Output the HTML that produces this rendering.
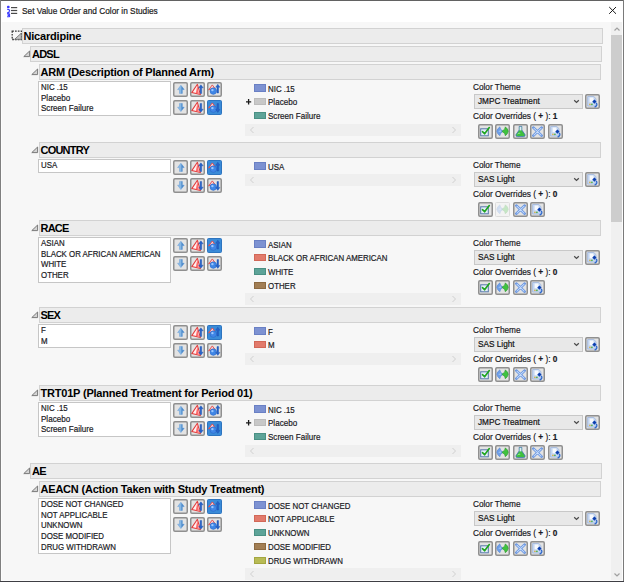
<!DOCTYPE html><html><head><meta charset="utf-8"><style>
html,body{margin:0;padding:0;}
body{width:624px;height:582px;overflow:hidden;position:relative;background:#f7f7f7;font-family:"Liberation Sans", sans-serif;}
.t{position:absolute;white-space:nowrap;color:#1e1e1e;-webkit-text-stroke:0.2px currentColor;}
</style></head><body>
<div style="position:absolute;left:0px;top:0px;width:624px;height:1px;background:#626262;"></div>
<div style="position:absolute;left:0px;top:0px;width:1px;height:582px;background:#808080;"></div>
<div style="position:absolute;left:1px;top:1px;width:622px;height:21px;background:#ffffff;"></div>
<div style="position:absolute;left:623px;top:0px;width:1px;height:582px;background:#7a7a7a;"></div>
<div style="position:absolute;left:1px;top:580px;width:622px;height:1px;background:#fbfbfb;"></div>
<div style="position:absolute;left:1px;top:22px;width:1px;height:558px;background:#fdfdfd;"></div>
<div style="position:absolute;left:0px;top:581px;width:624px;height:1px;background:#3e3e44;"></div>
<svg style="position:absolute;left:6px;top:5px" width="13" height="13" viewBox="0 0 13 13"><rect x="1" y="0.8" width="2.6" height="2.4" rx="1" fill="#3a3aff"/><path d="M1.2 4.4 Q3.8 4.2 3.6 6 Q3.4 7 1.2 8 L3.8 8" fill="none" stroke="#3a3aff" stroke-width="1.1"/><path d="M1.2 8.6 Q3.9 8.8 3.6 9.9 Q2.6 10.4 1.6 10.2 Q4.2 10.6 3.6 11.6 Q3 12 1.2 11.6" fill="none" stroke="#3a3aff" stroke-width="1.1"/><rect x="5" y="2" width="6.2" height="1.2" fill="#4a4a4a"/><rect x="5" y="4.9" width="6.2" height="1.2" fill="#4a4a4a"/><rect x="5" y="7.8" width="6.2" height="1.2" fill="#4a4a4a"/></svg>
<div class="t" style="left:22px;top:6px;font-size:9px;line-height:11px;transform:scaleX(0.921);transform-origin:0 0;color:#1a1a1a;">Set Value Order and Color in Studies</div>
<svg style="position:absolute;left:608px;top:6px" width="10" height="10" viewBox="0 0 10 10"><path d="M1.2 1 L8 7.8 M8 1 L1.2 7.8" stroke="#1a1a1a" stroke-width="1"/></svg>
<div style="position:absolute;left:611px;top:22px;width:11px;height:558px;background:#f0f0f0;"></div>
<div style="position:absolute;left:622px;top:22px;width:1px;height:558px;background:#fdfdfd;"></div>
<div style="position:absolute;left:611px;top:35px;width:11px;height:187px;background:#cdcdcd;"></div>
<svg style="position:absolute;left:613px;top:25.5px" width="8" height="6" viewBox="0 0 8 6"><path d="M1.5 4.5 L4 2 L6.5 4.5" fill="none" stroke="#a0a0a0" stroke-width="1.2"/></svg>
<svg style="position:absolute;left:613px;top:572px" width="8" height="6" viewBox="0 0 8 6"><path d="M1.5 1.5 L4 4 L6.5 1.5" fill="none" stroke="#a0a0a0" stroke-width="1.2"/></svg>
<svg style="position:absolute;left:11px;top:30px" width="12" height="11" viewBox="0 0 12 11"><rect x="1.2" y="1.2" width="9.3" height="8.3" fill="none" stroke="#3a3a3a" stroke-width="1.3" stroke-dasharray="1.7 1.1"/><path d="M3.6 9.3 L10.3 3.2 L10.3 9.3 Z" fill="#c4c4c4" stroke="#707070" stroke-width="0.9"/></svg>
<div style="position:absolute;left:21.5px;top:28px;width:581.5px;height:16px;box-sizing:border-box;border:1px solid #d2d2d2;background:#ececec;"></div>
<div class="t" style="left:23.5px;top:29px;font-weight:bold;font-size:11px;line-height:14px;color:#000;-webkit-text-stroke:0;letter-spacing:-0.2px;">Nicardipine</div>
<div style="position:absolute;left:30px;top:46px;width:572px;height:16px;box-sizing:border-box;border:1px solid #d2d2d2;background:#ececec;"></div>
<svg style="position:absolute;left:22.8px;top:50.4px" width="8" height="8" viewBox="0 0 8 8"><path d="M0.8 6.6 L6.6 1 L6.6 6.6 Z" fill="#d4d4d4" stroke="#7a7a7a" stroke-width="1" stroke-linejoin="round"/></svg>
<div class="t" style="left:32px;top:47px;font-weight:bold;font-size:11px;line-height:14px;color:#000;-webkit-text-stroke:0;letter-spacing:-0.78px;">ADSL</div>
<div style="position:absolute;left:38.5px;top:64px;width:562.5px;height:16px;box-sizing:border-box;border:1px solid #d2d2d2;background:#ececec;"></div>
<svg style="position:absolute;left:31.3px;top:68.4px" width="8" height="8" viewBox="0 0 8 8"><path d="M0.8 6.6 L6.6 1 L6.6 6.6 Z" fill="#d4d4d4" stroke="#7a7a7a" stroke-width="1" stroke-linejoin="round"/></svg>
<div class="t" style="left:40.5px;top:65px;font-weight:bold;font-size:11px;line-height:14px;color:#000;-webkit-text-stroke:0;letter-spacing:-0.2px;">ARM (Description of Planned Arm)</div>
<div style="position:absolute;left:38px;top:81px;width:133px;height:34.89999999999999px;box-sizing:border-box;border:1px solid #c6c6c6;background:#fff;"></div>
<div class="t" style="left:41px;top:82.0px;font-size:9px;line-height:10.7px;transform:scaleX(0.875);transform-origin:0 0;color:#1a1a24;">NIC .15</div>
<div class="t" style="left:41px;top:92.7px;font-size:9px;line-height:10.7px;transform:scaleX(0.895);transform-origin:0 0;color:#1a1a24;">Placebo</div>
<div class="t" style="left:41px;top:103.4px;font-size:9px;line-height:10.7px;transform:scaleX(0.895);transform-origin:0 0;color:#1a1a24;">Screen Failure</div>
<svg style="position:absolute;left:172.5px;top:82px" width="15" height="15" viewBox="0 0 15 15"><rect x="0.75" y="0.75" width="13.5" height="13.5" rx="1.2" fill="#e3e3e3" stroke="#909090" stroke-width="1.5"/><g><path d="M7.9 3.2 L11.2 7.6 L9.3 7.6 L9.3 11.4 L6.5 11.4 L6.5 7.6 L4.6 7.6 Z" fill="#86b8e6" stroke="#6a9fd6" stroke-width="0.5"/><path d="M8.4 4 L11.2 7.6 L9.3 7.6 L9.3 11.4 L8.4 11.4 Z" fill="#4d89c9"/></g></svg>
<svg style="position:absolute;left:190px;top:82px" width="15" height="15" viewBox="0 0 15 15"><rect x="0.75" y="0.75" width="13.5" height="13.5" rx="1.2" fill="#e3e3e3" stroke="#909090" stroke-width="1.5"/><g><path d="M7.4 2.3 L1.8 10.6 L10.4 12.6 Z" fill="#fff0f0" stroke="#e23c3c" stroke-width="1.05" stroke-linejoin="round"/><path d="M7.3 3.6 L5.9 10.9 L8.9 11.6 Z" fill="#ff6a6a"/><path d="M10.9 2.8 L13.2 5.8 L11.7 5.8 L11.7 11.6 L10.1 11.6 L10.1 5.8 L8.6 5.8 Z" fill="#2563c9" stroke="#1b4fae" stroke-width="0.4"/></g></svg>
<svg style="position:absolute;left:207.3px;top:82px" width="15" height="15" viewBox="0 0 15 15"><rect x="0.75" y="0.75" width="13.5" height="13.5" rx="1.2" fill="#e3e3e3" stroke="#909090" stroke-width="1.5"/><g><path d="M1.6 7.9 L5.3 2.9 L7.6 6 Z" fill="#ffd0d0" stroke="#e04848" stroke-width="0.9" stroke-linejoin="round"/><circle cx="6.3" cy="9.1" r="3.3" fill="#3f86e6" stroke="#2a63c0" stroke-width="0.5"/><circle cx="5.4" cy="8.1" r="1.2" fill="#9cc8ff"/><path d="M10.8 2.2 L12.9 5.2 L11.6 5.2 L11.6 11 L10 11 L10 5.2 L8.7 5.2 Z" fill="#2563c9" stroke="#1b4fae" stroke-width="0.4"/></g></svg>
<svg style="position:absolute;left:172.5px;top:99.5px" width="15" height="15" viewBox="0 0 15 15"><rect x="0.75" y="0.75" width="13.5" height="13.5" rx="1.2" fill="#e3e3e3" stroke="#909090" stroke-width="1.5"/><g><path d="M7.9 11.6 L11.2 7.2 L9.3 7.2 L9.3 3.4 L6.5 3.4 L6.5 7.2 L4.6 7.2 Z" fill="#86b8e6" stroke="#6a9fd6" stroke-width="0.5"/><path d="M8.4 10.8 L11.2 7.2 L9.3 7.2 L9.3 3.4 L8.4 3.4 Z" fill="#4d89c9"/></g></svg>
<svg style="position:absolute;left:190px;top:99.5px" width="15" height="15" viewBox="0 0 15 15"><rect x="0.75" y="0.75" width="13.5" height="13.5" rx="1.2" fill="#e3e3e3" stroke="#909090" stroke-width="1.5"/><g><path d="M7.4 2.3 L1.8 10.6 L10.4 12.6 Z" fill="#fff0f0" stroke="#e23c3c" stroke-width="1.05" stroke-linejoin="round"/><path d="M7.3 3.6 L5.9 10.9 L8.9 11.6 Z" fill="#ff6a6a"/><path d="M10.9 12.2 L13.2 9.2 L11.7 9.2 L11.7 3.4 L10.1 3.4 L10.1 9.2 L8.6 9.2 Z" fill="#2563c9" stroke="#1b4fae" stroke-width="0.4"/></g></svg>
<svg style="position:absolute;left:207.3px;top:99.5px" width="15" height="15" viewBox="0 0 15 15"><rect x="0.5" y="0.5" width="14" height="14" rx="1" fill="#3a8bd8" stroke="#2d74bf" stroke-width="1"/><g><path d="M1.6 7.9 L5.3 2.9 L7.6 6 Z" fill="#ffd0d0" stroke="#e04848" stroke-width="0.9" stroke-linejoin="round"/><circle cx="6.3" cy="9.1" r="3.3" fill="#3f86e6" stroke="#2a63c0" stroke-width="0.5"/><circle cx="5.4" cy="8.1" r="1.2" fill="#9cc8ff"/><path d="M10.8 12.4 L12.9 9.4 L11.6 9.4 L11.6 3.6 L10 3.6 L10 9.4 L8.7 9.4 Z" fill="#2563c9" stroke="#1b4fae" stroke-width="0.4"/></g></svg>
<div style="position:absolute;left:254px;top:84.4px;width:11.8px;height:7.2px;box-sizing:border-box;background:#7d92d2;border:0.8px solid #6a80c4;"></div>
<div class="t" style="left:267.7px;top:83.6px;font-size:9px;line-height:11px;transform:scaleX(0.875);transform-origin:0 0;color:#1a1a24;">NIC .15</div>
<div style="position:absolute;left:254px;top:98.2px;width:11.8px;height:7.2px;box-sizing:border-box;background:#c8c8c8;border:0.8px solid #bcbcbc;"></div>
<div class="t" style="left:267.7px;top:97.35px;font-size:9px;line-height:11px;transform:scaleX(0.895);transform-origin:0 0;color:#1a1a24;">Placebo</div>
<svg style="position:absolute;left:245px;top:97.7px" width="8" height="8" viewBox="0 0 8 8"><path d="M3.6 1 L3.6 6.6 M1 3.8 L6.2 3.8" stroke="#1a1a1a" stroke-width="1.3"/></svg>
<div style="position:absolute;left:254px;top:112.0px;width:11.8px;height:7.2px;box-sizing:border-box;background:#5da398;border:0.8px solid #4a9084;"></div>
<div class="t" style="left:267.7px;top:111.1px;font-size:9px;line-height:11px;transform:scaleX(0.895);transform-origin:0 0;color:#1a1a24;">Screen Failure</div>
<div style="position:absolute;left:245px;top:123.5px;width:216px;height:12px;background:#efefef;"></div>
<svg style="position:absolute;left:249px;top:125.5px" width="6" height="8" viewBox="0 0 6 8"><path d="M4.5 1 L1.5 4 L4.5 7" fill="none" stroke="#d0d0d0" stroke-width="1"/></svg>
<svg style="position:absolute;left:451px;top:125.5px" width="6" height="8" viewBox="0 0 6 8"><path d="M1.5 1 L4.5 4 L1.5 7" fill="none" stroke="#d0d0d0" stroke-width="1"/></svg>
<div class="t" style="left:472.5px;top:82.4px;font-size:9px;line-height:11px;transform:scaleX(0.916);transform-origin:0 0;color:#1a1a24;">Color Theme</div>
<div style="position:absolute;left:473.5px;top:94px;width:109px;height:14.5px;box-sizing:border-box;border:1px solid #c8c8c8;background:#e8e8e8;"></div>
<div class="t" style="left:478px;top:96px;font-size:9px;line-height:11px;transform:scaleX(0.915);transform-origin:0 0;color:#111;">JMPC Treatment</div>
<svg style="position:absolute;left:573px;top:98.6px" width="7" height="5" viewBox="0 0 7 5"><path d="M1.2 1.2 L3.5 3.4 L5.8 1.2" fill="none" stroke="#4a4a4a" stroke-width="1.25"/></svg>
<svg style="position:absolute;left:585.4px;top:93.5px" width="15" height="15" viewBox="0 0 15 15"><rect x="0.75" y="0.75" width="13.5" height="13.5" rx="1.2" fill="#e3e3e3" stroke="#909090" stroke-width="1.5"/><g><path d="M2.6 2.5 L8.8 2.5 L11 4.7 L11 12.1 L2.6 12.1 Z" fill="#c6d8f2" stroke="#8eaad6" stroke-width="0.6"/><path d="M4.6 3.4 L8.2 3.4 L8.8 6.8 L6.6 8.6 L4.6 8 Z" fill="#ffffff" opacity="0.85"/><path d="M9.4 5.5 L11.5 7.6 L9.4 9.7 L7.3 7.6 Z" fill="#0b3fb0"/><path d="M11.3 8.9 Q13.1 11.6 9.6 13.1" fill="none" stroke="#2d68cc" stroke-width="1.3"/><circle cx="4.9" cy="10.3" r="0.9" fill="#d8b050"/><circle cx="6.9" cy="10.3" r="0.9" fill="#50b050"/></g></svg>
<div class="t" style="left:472.5px;top:110.8px;font-size:9px;line-height:11px;transform:scaleX(0.92);transform-origin:0 0;color:#1a1a24;">Color Overrides ( <b>+</b> ): <b>1</b></div>
<svg style="position:absolute;left:478.0px;top:124px" width="15" height="15" viewBox="0 0 15 15"><rect x="0.75" y="0.75" width="13.5" height="13.5" rx="1.2" fill="#e3e3e3" stroke="#909090" stroke-width="1.5"/><g><rect x="2.7" y="4.8" width="7.6" height="7" fill="#e4eefa" stroke="#5678a8" stroke-width="1"/><path d="M4.5 7.6 L6.6 9.8 L11.3 3.6" fill="none" stroke="#1ea51e" stroke-width="1.6" stroke-linecap="round" stroke-linejoin="round"/></g></svg>
<svg style="position:absolute;left:495.4px;top:124px" width="15" height="15" viewBox="0 0 15 15"><rect x="0.75" y="0.75" width="13.5" height="13.5" rx="1.2" fill="#e3e3e3" stroke="#909090" stroke-width="1.5"/><g><path d="M1.7 7.3 Q2.2 4.6 4.9 2.8 L5.6 5.2 L8.1 7.3 L5.6 9.4 L4.9 11.8 Q2.2 10 1.7 7.3 Z" fill="#6d9fe8" stroke="#4c7fd2" stroke-width="0.5"/><path d="M3.2 7.3 L5.6 6.4 L6 7.6 Z" fill="#e6f0ff"/><path d="M6.9 7.3 L9.6 5.2 L10.3 2.8 Q12.8 4.6 13.3 7.3 Q12.8 10 10.3 11.8 L9.6 9.4 Z" fill="#3fc23f" stroke="#248c24" stroke-width="0.5"/></g></svg>
<svg style="position:absolute;left:512.8px;top:124px" width="15" height="15" viewBox="0 0 15 15"><rect x="0.75" y="0.75" width="13.5" height="13.5" rx="1.2" fill="#e3e3e3" stroke="#909090" stroke-width="1.5"/><g><path d="M6.2 2.4 L8.8 2.4 L8.8 6 L12 10.6 Q12.6 12.6 10.6 12.6 L4.4 12.6 Q2.4 12.6 3 10.6 L6.2 6 Z" fill="#3fbf3f" stroke="#3f70b8" stroke-width="0.8"/><path d="M6.6 2.8 L8.4 2.8 L8.4 6.4 L6.6 6.4 Z" fill="#dfeaf8"/><path d="M4.6 10 Q6 8.6 7.2 9.4" fill="none" stroke="#a8f0a8" stroke-width="0.8"/></g></svg>
<svg style="position:absolute;left:530.2px;top:124px" width="15" height="15" viewBox="0 0 15 15"><rect x="0.75" y="0.75" width="13.5" height="13.5" rx="1.2" fill="#e3e3e3" stroke="#909090" stroke-width="1.5"/><g><path d="M3.4 3.6 L11.6 11.6 M11.6 3.6 L3.4 11.6" stroke="#5f8fe0" stroke-width="2.7" stroke-linecap="round"/><path d="M3.9 4.1 L11.1 11.1 M11.1 4.1 L3.9 11.1" stroke="#c6dbf8" stroke-width="1.1" stroke-linecap="round"/></g></svg>
<svg style="position:absolute;left:547.6px;top:124px" width="15" height="15" viewBox="0 0 15 15"><rect x="0.75" y="0.75" width="13.5" height="13.5" rx="1.2" fill="#e3e3e3" stroke="#909090" stroke-width="1.5"/><g><path d="M2.6 2.5 L8.8 2.5 L11 4.7 L11 12.1 L2.6 12.1 Z" fill="#c6d8f2" stroke="#8eaad6" stroke-width="0.6"/><path d="M4.6 3.4 L8.2 3.4 L8.8 6.8 L6.6 8.6 L4.6 8 Z" fill="#ffffff" opacity="0.85"/><path d="M9.4 5.5 L11.5 7.6 L9.4 9.7 L7.3 7.6 Z" fill="#0b3fb0"/><path d="M11.3 8.9 Q13.1 11.6 9.6 13.1" fill="none" stroke="#2d68cc" stroke-width="1.3"/><circle cx="4.9" cy="10.3" r="0.9" fill="#d8b050"/><circle cx="6.9" cy="10.3" r="0.9" fill="#50b050"/></g></svg>
<div style="position:absolute;left:38.5px;top:142px;width:562.5px;height:16px;box-sizing:border-box;border:1px solid #d2d2d2;background:#ececec;"></div>
<svg style="position:absolute;left:31.3px;top:146.4px" width="8" height="8" viewBox="0 0 8 8"><path d="M0.8 6.6 L6.6 1 L6.6 6.6 Z" fill="#d4d4d4" stroke="#7a7a7a" stroke-width="1" stroke-linejoin="round"/></svg>
<div class="t" style="left:40.5px;top:143px;font-weight:bold;font-size:11px;line-height:14px;color:#000;-webkit-text-stroke:0;letter-spacing:-0.78px;">COUNTRY</div>
<div style="position:absolute;left:38px;top:159px;width:133px;height:13.5px;box-sizing:border-box;border:1px solid #c6c6c6;background:#fff;"></div>
<div class="t" style="left:41px;top:160.0px;font-size:9px;line-height:10.7px;transform:scaleX(0.875);transform-origin:0 0;color:#1a1a24;">USA</div>
<svg style="position:absolute;left:172.5px;top:160px" width="15" height="15" viewBox="0 0 15 15"><rect x="0.75" y="0.75" width="13.5" height="13.5" rx="1.2" fill="#e3e3e3" stroke="#909090" stroke-width="1.5"/><g><path d="M7.9 3.2 L11.2 7.6 L9.3 7.6 L9.3 11.4 L6.5 11.4 L6.5 7.6 L4.6 7.6 Z" fill="#86b8e6" stroke="#6a9fd6" stroke-width="0.5"/><path d="M8.4 4 L11.2 7.6 L9.3 7.6 L9.3 11.4 L8.4 11.4 Z" fill="#4d89c9"/></g></svg>
<svg style="position:absolute;left:190px;top:160px" width="15" height="15" viewBox="0 0 15 15"><rect x="0.75" y="0.75" width="13.5" height="13.5" rx="1.2" fill="#e3e3e3" stroke="#909090" stroke-width="1.5"/><g><path d="M7.4 2.3 L1.8 10.6 L10.4 12.6 Z" fill="#fff0f0" stroke="#e23c3c" stroke-width="1.05" stroke-linejoin="round"/><path d="M7.3 3.6 L5.9 10.9 L8.9 11.6 Z" fill="#ff6a6a"/><path d="M10.9 2.8 L13.2 5.8 L11.7 5.8 L11.7 11.6 L10.1 11.6 L10.1 5.8 L8.6 5.8 Z" fill="#2563c9" stroke="#1b4fae" stroke-width="0.4"/></g></svg>
<svg style="position:absolute;left:207.3px;top:160px" width="15" height="15" viewBox="0 0 15 15"><rect x="0.5" y="0.5" width="14" height="14" rx="1" fill="#3a8bd8" stroke="#2d74bf" stroke-width="1"/><g><path d="M1.6 7.9 L5.3 2.9 L7.6 6 Z" fill="#ffd0d0" stroke="#e04848" stroke-width="0.9" stroke-linejoin="round"/><circle cx="6.3" cy="9.1" r="3.3" fill="#3f86e6" stroke="#2a63c0" stroke-width="0.5"/><circle cx="5.4" cy="8.1" r="1.2" fill="#9cc8ff"/><path d="M10.8 2.2 L12.9 5.2 L11.6 5.2 L11.6 11 L10 11 L10 5.2 L8.7 5.2 Z" fill="#2563c9" stroke="#1b4fae" stroke-width="0.4"/></g></svg>
<svg style="position:absolute;left:172.5px;top:177.5px" width="15" height="15" viewBox="0 0 15 15"><rect x="0.75" y="0.75" width="13.5" height="13.5" rx="1.2" fill="#e3e3e3" stroke="#909090" stroke-width="1.5"/><g><path d="M7.9 11.6 L11.2 7.2 L9.3 7.2 L9.3 3.4 L6.5 3.4 L6.5 7.2 L4.6 7.2 Z" fill="#86b8e6" stroke="#6a9fd6" stroke-width="0.5"/><path d="M8.4 10.8 L11.2 7.2 L9.3 7.2 L9.3 3.4 L8.4 3.4 Z" fill="#4d89c9"/></g></svg>
<svg style="position:absolute;left:190px;top:177.5px" width="15" height="15" viewBox="0 0 15 15"><rect x="0.75" y="0.75" width="13.5" height="13.5" rx="1.2" fill="#e3e3e3" stroke="#909090" stroke-width="1.5"/><g><path d="M7.4 2.3 L1.8 10.6 L10.4 12.6 Z" fill="#fff0f0" stroke="#e23c3c" stroke-width="1.05" stroke-linejoin="round"/><path d="M7.3 3.6 L5.9 10.9 L8.9 11.6 Z" fill="#ff6a6a"/><path d="M10.9 12.2 L13.2 9.2 L11.7 9.2 L11.7 3.4 L10.1 3.4 L10.1 9.2 L8.6 9.2 Z" fill="#2563c9" stroke="#1b4fae" stroke-width="0.4"/></g></svg>
<svg style="position:absolute;left:207.3px;top:177.5px" width="15" height="15" viewBox="0 0 15 15"><rect x="0.75" y="0.75" width="13.5" height="13.5" rx="1.2" fill="#e3e3e3" stroke="#909090" stroke-width="1.5"/><g><path d="M1.6 7.9 L5.3 2.9 L7.6 6 Z" fill="#ffd0d0" stroke="#e04848" stroke-width="0.9" stroke-linejoin="round"/><circle cx="6.3" cy="9.1" r="3.3" fill="#3f86e6" stroke="#2a63c0" stroke-width="0.5"/><circle cx="5.4" cy="8.1" r="1.2" fill="#9cc8ff"/><path d="M10.8 12.4 L12.9 9.4 L11.6 9.4 L11.6 3.6 L10 3.6 L10 9.4 L8.7 9.4 Z" fill="#2563c9" stroke="#1b4fae" stroke-width="0.4"/></g></svg>
<div style="position:absolute;left:254px;top:162.4px;width:11.8px;height:7.2px;box-sizing:border-box;background:#7d92d2;border:0.8px solid #6a80c4;"></div>
<div class="t" style="left:267.7px;top:161.6px;font-size:9px;line-height:11px;transform:scaleX(0.875);transform-origin:0 0;color:#1a1a24;">USA</div>
<div style="position:absolute;left:245px;top:174.0px;width:216px;height:12px;background:#efefef;"></div>
<svg style="position:absolute;left:249px;top:176.0px" width="6" height="8" viewBox="0 0 6 8"><path d="M4.5 1 L1.5 4 L4.5 7" fill="none" stroke="#d0d0d0" stroke-width="1"/></svg>
<svg style="position:absolute;left:451px;top:176.0px" width="6" height="8" viewBox="0 0 6 8"><path d="M1.5 1 L4.5 4 L1.5 7" fill="none" stroke="#d0d0d0" stroke-width="1"/></svg>
<div class="t" style="left:472.5px;top:160.4px;font-size:9px;line-height:11px;transform:scaleX(0.916);transform-origin:0 0;color:#1a1a24;">Color Theme</div>
<div style="position:absolute;left:473.5px;top:172px;width:109px;height:14.5px;box-sizing:border-box;border:1px solid #c8c8c8;background:#e8e8e8;"></div>
<div class="t" style="left:478px;top:174px;font-size:9px;line-height:11px;transform:scaleX(0.915);transform-origin:0 0;color:#111;">SAS Light</div>
<svg style="position:absolute;left:573px;top:176.6px" width="7" height="5" viewBox="0 0 7 5"><path d="M1.2 1.2 L3.5 3.4 L5.8 1.2" fill="none" stroke="#4a4a4a" stroke-width="1.25"/></svg>
<svg style="position:absolute;left:585.4px;top:171.5px" width="15" height="15" viewBox="0 0 15 15"><rect x="0.75" y="0.75" width="13.5" height="13.5" rx="1.2" fill="#e3e3e3" stroke="#909090" stroke-width="1.5"/><g><path d="M2.6 2.5 L8.8 2.5 L11 4.7 L11 12.1 L2.6 12.1 Z" fill="#c6d8f2" stroke="#8eaad6" stroke-width="0.6"/><path d="M4.6 3.4 L8.2 3.4 L8.8 6.8 L6.6 8.6 L4.6 8 Z" fill="#ffffff" opacity="0.85"/><path d="M9.4 5.5 L11.5 7.6 L9.4 9.7 L7.3 7.6 Z" fill="#0b3fb0"/><path d="M11.3 8.9 Q13.1 11.6 9.6 13.1" fill="none" stroke="#2d68cc" stroke-width="1.3"/><circle cx="4.9" cy="10.3" r="0.9" fill="#d8b050"/><circle cx="6.9" cy="10.3" r="0.9" fill="#50b050"/></g></svg>
<div class="t" style="left:472.5px;top:188.8px;font-size:9px;line-height:11px;transform:scaleX(0.92);transform-origin:0 0;color:#1a1a24;">Color Overrides ( <b>+</b> ): <b>0</b></div>
<svg style="position:absolute;left:478.0px;top:202px" width="15" height="15" viewBox="0 0 15 15"><rect x="0.75" y="0.75" width="13.5" height="13.5" rx="1.2" fill="#e3e3e3" stroke="#909090" stroke-width="1.5"/><g><rect x="2.7" y="4.8" width="7.6" height="7" fill="#e4eefa" stroke="#5678a8" stroke-width="1"/><path d="M4.5 7.6 L6.6 9.8 L11.3 3.6" fill="none" stroke="#1ea51e" stroke-width="1.6" stroke-linecap="round" stroke-linejoin="round"/></g></svg>
<svg style="position:absolute;left:495.4px;top:202px" width="15" height="15" viewBox="0 0 15 15"><rect x="0.5" y="0.5" width="14" height="14" rx="1" fill="#f3f3f3" stroke="#dcdcdc" stroke-width="1"/><g opacity="0.25"><path d="M1.7 7.3 Q2.2 4.6 4.9 2.8 L5.6 5.2 L8.1 7.3 L5.6 9.4 L4.9 11.8 Q2.2 10 1.7 7.3 Z" fill="#6d9fe8" stroke="#4c7fd2" stroke-width="0.5"/><path d="M3.2 7.3 L5.6 6.4 L6 7.6 Z" fill="#e6f0ff"/><path d="M6.9 7.3 L9.6 5.2 L10.3 2.8 Q12.8 4.6 13.3 7.3 Q12.8 10 10.3 11.8 L9.6 9.4 Z" fill="#3fc23f" stroke="#248c24" stroke-width="0.5"/></g></svg>
<svg style="position:absolute;left:512.8px;top:202px" width="15" height="15" viewBox="0 0 15 15"><rect x="0.75" y="0.75" width="13.5" height="13.5" rx="1.2" fill="#e3e3e3" stroke="#909090" stroke-width="1.5"/><g><path d="M3.4 3.6 L11.6 11.6 M11.6 3.6 L3.4 11.6" stroke="#5f8fe0" stroke-width="2.7" stroke-linecap="round"/><path d="M3.9 4.1 L11.1 11.1 M11.1 4.1 L3.9 11.1" stroke="#c6dbf8" stroke-width="1.1" stroke-linecap="round"/></g></svg>
<svg style="position:absolute;left:530.2px;top:202px" width="15" height="15" viewBox="0 0 15 15"><rect x="0.75" y="0.75" width="13.5" height="13.5" rx="1.2" fill="#e3e3e3" stroke="#909090" stroke-width="1.5"/><g><path d="M2.6 2.5 L8.8 2.5 L11 4.7 L11 12.1 L2.6 12.1 Z" fill="#c6d8f2" stroke="#8eaad6" stroke-width="0.6"/><path d="M4.6 3.4 L8.2 3.4 L8.8 6.8 L6.6 8.6 L4.6 8 Z" fill="#ffffff" opacity="0.85"/><path d="M9.4 5.5 L11.5 7.6 L9.4 9.7 L7.3 7.6 Z" fill="#0b3fb0"/><path d="M11.3 8.9 Q13.1 11.6 9.6 13.1" fill="none" stroke="#2d68cc" stroke-width="1.3"/><circle cx="4.9" cy="10.3" r="0.9" fill="#d8b050"/><circle cx="6.9" cy="10.3" r="0.9" fill="#50b050"/></g></svg>
<div style="position:absolute;left:38.5px;top:220px;width:562.5px;height:16px;box-sizing:border-box;border:1px solid #d2d2d2;background:#ececec;"></div>
<svg style="position:absolute;left:31.3px;top:224.4px" width="8" height="8" viewBox="0 0 8 8"><path d="M0.8 6.6 L6.6 1 L6.6 6.6 Z" fill="#d4d4d4" stroke="#7a7a7a" stroke-width="1" stroke-linejoin="round"/></svg>
<div class="t" style="left:40.5px;top:221px;font-weight:bold;font-size:11px;line-height:14px;color:#000;-webkit-text-stroke:0;letter-spacing:-0.78px;">RACE</div>
<div style="position:absolute;left:38px;top:237px;width:133px;height:45.599999999999994px;box-sizing:border-box;border:1px solid #c6c6c6;background:#fff;"></div>
<div class="t" style="left:41px;top:238.0px;font-size:9px;line-height:10.7px;transform:scaleX(0.875);transform-origin:0 0;color:#1a1a24;">ASIAN</div>
<div class="t" style="left:41px;top:248.7px;font-size:9px;line-height:10.7px;transform:scaleX(0.875);transform-origin:0 0;color:#1a1a24;">BLACK OR AFRICAN AMERICAN</div>
<div class="t" style="left:41px;top:259.4px;font-size:9px;line-height:10.7px;transform:scaleX(0.875);transform-origin:0 0;color:#1a1a24;">WHITE</div>
<div class="t" style="left:41px;top:270.1px;font-size:9px;line-height:10.7px;transform:scaleX(0.875);transform-origin:0 0;color:#1a1a24;">OTHER</div>
<svg style="position:absolute;left:172.5px;top:238px" width="15" height="15" viewBox="0 0 15 15"><rect x="0.75" y="0.75" width="13.5" height="13.5" rx="1.2" fill="#e3e3e3" stroke="#909090" stroke-width="1.5"/><g><path d="M7.9 3.2 L11.2 7.6 L9.3 7.6 L9.3 11.4 L6.5 11.4 L6.5 7.6 L4.6 7.6 Z" fill="#86b8e6" stroke="#6a9fd6" stroke-width="0.5"/><path d="M8.4 4 L11.2 7.6 L9.3 7.6 L9.3 11.4 L8.4 11.4 Z" fill="#4d89c9"/></g></svg>
<svg style="position:absolute;left:190px;top:238px" width="15" height="15" viewBox="0 0 15 15"><rect x="0.75" y="0.75" width="13.5" height="13.5" rx="1.2" fill="#e3e3e3" stroke="#909090" stroke-width="1.5"/><g><path d="M7.4 2.3 L1.8 10.6 L10.4 12.6 Z" fill="#fff0f0" stroke="#e23c3c" stroke-width="1.05" stroke-linejoin="round"/><path d="M7.3 3.6 L5.9 10.9 L8.9 11.6 Z" fill="#ff6a6a"/><path d="M10.9 2.8 L13.2 5.8 L11.7 5.8 L11.7 11.6 L10.1 11.6 L10.1 5.8 L8.6 5.8 Z" fill="#2563c9" stroke="#1b4fae" stroke-width="0.4"/></g></svg>
<svg style="position:absolute;left:207.3px;top:238px" width="15" height="15" viewBox="0 0 15 15"><rect x="0.5" y="0.5" width="14" height="14" rx="1" fill="#3a8bd8" stroke="#2d74bf" stroke-width="1"/><g><path d="M1.6 7.9 L5.3 2.9 L7.6 6 Z" fill="#ffd0d0" stroke="#e04848" stroke-width="0.9" stroke-linejoin="round"/><circle cx="6.3" cy="9.1" r="3.3" fill="#3f86e6" stroke="#2a63c0" stroke-width="0.5"/><circle cx="5.4" cy="8.1" r="1.2" fill="#9cc8ff"/><path d="M10.8 2.2 L12.9 5.2 L11.6 5.2 L11.6 11 L10 11 L10 5.2 L8.7 5.2 Z" fill="#2563c9" stroke="#1b4fae" stroke-width="0.4"/></g></svg>
<svg style="position:absolute;left:172.5px;top:255.5px" width="15" height="15" viewBox="0 0 15 15"><rect x="0.75" y="0.75" width="13.5" height="13.5" rx="1.2" fill="#e3e3e3" stroke="#909090" stroke-width="1.5"/><g><path d="M7.9 11.6 L11.2 7.2 L9.3 7.2 L9.3 3.4 L6.5 3.4 L6.5 7.2 L4.6 7.2 Z" fill="#86b8e6" stroke="#6a9fd6" stroke-width="0.5"/><path d="M8.4 10.8 L11.2 7.2 L9.3 7.2 L9.3 3.4 L8.4 3.4 Z" fill="#4d89c9"/></g></svg>
<svg style="position:absolute;left:190px;top:255.5px" width="15" height="15" viewBox="0 0 15 15"><rect x="0.75" y="0.75" width="13.5" height="13.5" rx="1.2" fill="#e3e3e3" stroke="#909090" stroke-width="1.5"/><g><path d="M7.4 2.3 L1.8 10.6 L10.4 12.6 Z" fill="#fff0f0" stroke="#e23c3c" stroke-width="1.05" stroke-linejoin="round"/><path d="M7.3 3.6 L5.9 10.9 L8.9 11.6 Z" fill="#ff6a6a"/><path d="M10.9 12.2 L13.2 9.2 L11.7 9.2 L11.7 3.4 L10.1 3.4 L10.1 9.2 L8.6 9.2 Z" fill="#2563c9" stroke="#1b4fae" stroke-width="0.4"/></g></svg>
<svg style="position:absolute;left:207.3px;top:255.5px" width="15" height="15" viewBox="0 0 15 15"><rect x="0.75" y="0.75" width="13.5" height="13.5" rx="1.2" fill="#e3e3e3" stroke="#909090" stroke-width="1.5"/><g><path d="M1.6 7.9 L5.3 2.9 L7.6 6 Z" fill="#ffd0d0" stroke="#e04848" stroke-width="0.9" stroke-linejoin="round"/><circle cx="6.3" cy="9.1" r="3.3" fill="#3f86e6" stroke="#2a63c0" stroke-width="0.5"/><circle cx="5.4" cy="8.1" r="1.2" fill="#9cc8ff"/><path d="M10.8 12.4 L12.9 9.4 L11.6 9.4 L11.6 3.6 L10 3.6 L10 9.4 L8.7 9.4 Z" fill="#2563c9" stroke="#1b4fae" stroke-width="0.4"/></g></svg>
<div style="position:absolute;left:254px;top:240.4px;width:11.8px;height:7.2px;box-sizing:border-box;background:#7d92d2;border:0.8px solid #6a80c4;"></div>
<div class="t" style="left:267.7px;top:239.6px;font-size:9px;line-height:11px;transform:scaleX(0.875);transform-origin:0 0;color:#1a1a24;">ASIAN</div>
<div style="position:absolute;left:254px;top:254.20000000000002px;width:11.8px;height:7.2px;box-sizing:border-box;background:#e27b6c;border:0.8px solid #d26858;"></div>
<div class="t" style="left:267.7px;top:253.35px;font-size:9px;line-height:11px;transform:scaleX(0.875);transform-origin:0 0;color:#1a1a24;">BLACK OR AFRICAN AMERICAN</div>
<div style="position:absolute;left:254px;top:268.0px;width:11.8px;height:7.2px;box-sizing:border-box;background:#5da398;border:0.8px solid #4a9084;"></div>
<div class="t" style="left:267.7px;top:267.1px;font-size:9px;line-height:11px;transform:scaleX(0.875);transform-origin:0 0;color:#1a1a24;">WHITE</div>
<div style="position:absolute;left:254px;top:281.8px;width:11.8px;height:7.2px;box-sizing:border-box;background:#a27e54;border:0.8px solid #8c6a42;"></div>
<div class="t" style="left:267.7px;top:280.85px;font-size:9px;line-height:11px;transform:scaleX(0.875);transform-origin:0 0;color:#1a1a24;">OTHER</div>
<div style="position:absolute;left:245px;top:293.25px;width:216px;height:12px;background:#efefef;"></div>
<svg style="position:absolute;left:249px;top:295.25px" width="6" height="8" viewBox="0 0 6 8"><path d="M4.5 1 L1.5 4 L4.5 7" fill="none" stroke="#d0d0d0" stroke-width="1"/></svg>
<svg style="position:absolute;left:451px;top:295.25px" width="6" height="8" viewBox="0 0 6 8"><path d="M1.5 1 L4.5 4 L1.5 7" fill="none" stroke="#d0d0d0" stroke-width="1"/></svg>
<div class="t" style="left:472.5px;top:238.4px;font-size:9px;line-height:11px;transform:scaleX(0.916);transform-origin:0 0;color:#1a1a24;">Color Theme</div>
<div style="position:absolute;left:473.5px;top:250px;width:109px;height:14.5px;box-sizing:border-box;border:1px solid #c8c8c8;background:#e8e8e8;"></div>
<div class="t" style="left:478px;top:252px;font-size:9px;line-height:11px;transform:scaleX(0.915);transform-origin:0 0;color:#111;">SAS Light</div>
<svg style="position:absolute;left:573px;top:254.6px" width="7" height="5" viewBox="0 0 7 5"><path d="M1.2 1.2 L3.5 3.4 L5.8 1.2" fill="none" stroke="#4a4a4a" stroke-width="1.25"/></svg>
<svg style="position:absolute;left:585.4px;top:249.5px" width="15" height="15" viewBox="0 0 15 15"><rect x="0.75" y="0.75" width="13.5" height="13.5" rx="1.2" fill="#e3e3e3" stroke="#909090" stroke-width="1.5"/><g><path d="M2.6 2.5 L8.8 2.5 L11 4.7 L11 12.1 L2.6 12.1 Z" fill="#c6d8f2" stroke="#8eaad6" stroke-width="0.6"/><path d="M4.6 3.4 L8.2 3.4 L8.8 6.8 L6.6 8.6 L4.6 8 Z" fill="#ffffff" opacity="0.85"/><path d="M9.4 5.5 L11.5 7.6 L9.4 9.7 L7.3 7.6 Z" fill="#0b3fb0"/><path d="M11.3 8.9 Q13.1 11.6 9.6 13.1" fill="none" stroke="#2d68cc" stroke-width="1.3"/><circle cx="4.9" cy="10.3" r="0.9" fill="#d8b050"/><circle cx="6.9" cy="10.3" r="0.9" fill="#50b050"/></g></svg>
<div class="t" style="left:472.5px;top:266.8px;font-size:9px;line-height:11px;transform:scaleX(0.92);transform-origin:0 0;color:#1a1a24;">Color Overrides ( <b>+</b> ): <b>0</b></div>
<svg style="position:absolute;left:478.0px;top:280px" width="15" height="15" viewBox="0 0 15 15"><rect x="0.75" y="0.75" width="13.5" height="13.5" rx="1.2" fill="#e3e3e3" stroke="#909090" stroke-width="1.5"/><g><rect x="2.7" y="4.8" width="7.6" height="7" fill="#e4eefa" stroke="#5678a8" stroke-width="1"/><path d="M4.5 7.6 L6.6 9.8 L11.3 3.6" fill="none" stroke="#1ea51e" stroke-width="1.6" stroke-linecap="round" stroke-linejoin="round"/></g></svg>
<svg style="position:absolute;left:495.4px;top:280px" width="15" height="15" viewBox="0 0 15 15"><rect x="0.75" y="0.75" width="13.5" height="13.5" rx="1.2" fill="#e3e3e3" stroke="#909090" stroke-width="1.5"/><g><path d="M1.7 7.3 Q2.2 4.6 4.9 2.8 L5.6 5.2 L8.1 7.3 L5.6 9.4 L4.9 11.8 Q2.2 10 1.7 7.3 Z" fill="#6d9fe8" stroke="#4c7fd2" stroke-width="0.5"/><path d="M3.2 7.3 L5.6 6.4 L6 7.6 Z" fill="#e6f0ff"/><path d="M6.9 7.3 L9.6 5.2 L10.3 2.8 Q12.8 4.6 13.3 7.3 Q12.8 10 10.3 11.8 L9.6 9.4 Z" fill="#3fc23f" stroke="#248c24" stroke-width="0.5"/></g></svg>
<svg style="position:absolute;left:512.8px;top:280px" width="15" height="15" viewBox="0 0 15 15"><rect x="0.75" y="0.75" width="13.5" height="13.5" rx="1.2" fill="#e3e3e3" stroke="#909090" stroke-width="1.5"/><g><path d="M3.4 3.6 L11.6 11.6 M11.6 3.6 L3.4 11.6" stroke="#5f8fe0" stroke-width="2.7" stroke-linecap="round"/><path d="M3.9 4.1 L11.1 11.1 M11.1 4.1 L3.9 11.1" stroke="#c6dbf8" stroke-width="1.1" stroke-linecap="round"/></g></svg>
<svg style="position:absolute;left:530.2px;top:280px" width="15" height="15" viewBox="0 0 15 15"><rect x="0.75" y="0.75" width="13.5" height="13.5" rx="1.2" fill="#e3e3e3" stroke="#909090" stroke-width="1.5"/><g><path d="M2.6 2.5 L8.8 2.5 L11 4.7 L11 12.1 L2.6 12.1 Z" fill="#c6d8f2" stroke="#8eaad6" stroke-width="0.6"/><path d="M4.6 3.4 L8.2 3.4 L8.8 6.8 L6.6 8.6 L4.6 8 Z" fill="#ffffff" opacity="0.85"/><path d="M9.4 5.5 L11.5 7.6 L9.4 9.7 L7.3 7.6 Z" fill="#0b3fb0"/><path d="M11.3 8.9 Q13.1 11.6 9.6 13.1" fill="none" stroke="#2d68cc" stroke-width="1.3"/><circle cx="4.9" cy="10.3" r="0.9" fill="#d8b050"/><circle cx="6.9" cy="10.3" r="0.9" fill="#50b050"/></g></svg>
<div style="position:absolute;left:38.5px;top:307px;width:562.5px;height:16px;box-sizing:border-box;border:1px solid #d2d2d2;background:#ececec;"></div>
<svg style="position:absolute;left:31.3px;top:311.4px" width="8" height="8" viewBox="0 0 8 8"><path d="M0.8 6.6 L6.6 1 L6.6 6.6 Z" fill="#d4d4d4" stroke="#7a7a7a" stroke-width="1" stroke-linejoin="round"/></svg>
<div class="t" style="left:40.5px;top:308px;font-weight:bold;font-size:11px;line-height:14px;color:#000;-webkit-text-stroke:0;letter-spacing:-0.78px;">SEX</div>
<div style="position:absolute;left:38px;top:324px;width:133px;height:24.2px;box-sizing:border-box;border:1px solid #c6c6c6;background:#fff;"></div>
<div class="t" style="left:41px;top:325.0px;font-size:9px;line-height:10.7px;transform:scaleX(0.875);transform-origin:0 0;color:#1a1a24;">F</div>
<div class="t" style="left:41px;top:335.7px;font-size:9px;line-height:10.7px;transform:scaleX(0.875);transform-origin:0 0;color:#1a1a24;">M</div>
<svg style="position:absolute;left:172.5px;top:325px" width="15" height="15" viewBox="0 0 15 15"><rect x="0.75" y="0.75" width="13.5" height="13.5" rx="1.2" fill="#e3e3e3" stroke="#909090" stroke-width="1.5"/><g><path d="M7.9 3.2 L11.2 7.6 L9.3 7.6 L9.3 11.4 L6.5 11.4 L6.5 7.6 L4.6 7.6 Z" fill="#86b8e6" stroke="#6a9fd6" stroke-width="0.5"/><path d="M8.4 4 L11.2 7.6 L9.3 7.6 L9.3 11.4 L8.4 11.4 Z" fill="#4d89c9"/></g></svg>
<svg style="position:absolute;left:190px;top:325px" width="15" height="15" viewBox="0 0 15 15"><rect x="0.75" y="0.75" width="13.5" height="13.5" rx="1.2" fill="#e3e3e3" stroke="#909090" stroke-width="1.5"/><g><path d="M7.4 2.3 L1.8 10.6 L10.4 12.6 Z" fill="#fff0f0" stroke="#e23c3c" stroke-width="1.05" stroke-linejoin="round"/><path d="M7.3 3.6 L5.9 10.9 L8.9 11.6 Z" fill="#ff6a6a"/><path d="M10.9 2.8 L13.2 5.8 L11.7 5.8 L11.7 11.6 L10.1 11.6 L10.1 5.8 L8.6 5.8 Z" fill="#2563c9" stroke="#1b4fae" stroke-width="0.4"/></g></svg>
<svg style="position:absolute;left:207.3px;top:325px" width="15" height="15" viewBox="0 0 15 15"><rect x="0.5" y="0.5" width="14" height="14" rx="1" fill="#3a8bd8" stroke="#2d74bf" stroke-width="1"/><g><path d="M1.6 7.9 L5.3 2.9 L7.6 6 Z" fill="#ffd0d0" stroke="#e04848" stroke-width="0.9" stroke-linejoin="round"/><circle cx="6.3" cy="9.1" r="3.3" fill="#3f86e6" stroke="#2a63c0" stroke-width="0.5"/><circle cx="5.4" cy="8.1" r="1.2" fill="#9cc8ff"/><path d="M10.8 2.2 L12.9 5.2 L11.6 5.2 L11.6 11 L10 11 L10 5.2 L8.7 5.2 Z" fill="#2563c9" stroke="#1b4fae" stroke-width="0.4"/></g></svg>
<svg style="position:absolute;left:172.5px;top:342.5px" width="15" height="15" viewBox="0 0 15 15"><rect x="0.75" y="0.75" width="13.5" height="13.5" rx="1.2" fill="#e3e3e3" stroke="#909090" stroke-width="1.5"/><g><path d="M7.9 11.6 L11.2 7.2 L9.3 7.2 L9.3 3.4 L6.5 3.4 L6.5 7.2 L4.6 7.2 Z" fill="#86b8e6" stroke="#6a9fd6" stroke-width="0.5"/><path d="M8.4 10.8 L11.2 7.2 L9.3 7.2 L9.3 3.4 L8.4 3.4 Z" fill="#4d89c9"/></g></svg>
<svg style="position:absolute;left:190px;top:342.5px" width="15" height="15" viewBox="0 0 15 15"><rect x="0.75" y="0.75" width="13.5" height="13.5" rx="1.2" fill="#e3e3e3" stroke="#909090" stroke-width="1.5"/><g><path d="M7.4 2.3 L1.8 10.6 L10.4 12.6 Z" fill="#fff0f0" stroke="#e23c3c" stroke-width="1.05" stroke-linejoin="round"/><path d="M7.3 3.6 L5.9 10.9 L8.9 11.6 Z" fill="#ff6a6a"/><path d="M10.9 12.2 L13.2 9.2 L11.7 9.2 L11.7 3.4 L10.1 3.4 L10.1 9.2 L8.6 9.2 Z" fill="#2563c9" stroke="#1b4fae" stroke-width="0.4"/></g></svg>
<svg style="position:absolute;left:207.3px;top:342.5px" width="15" height="15" viewBox="0 0 15 15"><rect x="0.75" y="0.75" width="13.5" height="13.5" rx="1.2" fill="#e3e3e3" stroke="#909090" stroke-width="1.5"/><g><path d="M1.6 7.9 L5.3 2.9 L7.6 6 Z" fill="#ffd0d0" stroke="#e04848" stroke-width="0.9" stroke-linejoin="round"/><circle cx="6.3" cy="9.1" r="3.3" fill="#3f86e6" stroke="#2a63c0" stroke-width="0.5"/><circle cx="5.4" cy="8.1" r="1.2" fill="#9cc8ff"/><path d="M10.8 12.4 L12.9 9.4 L11.6 9.4 L11.6 3.6 L10 3.6 L10 9.4 L8.7 9.4 Z" fill="#2563c9" stroke="#1b4fae" stroke-width="0.4"/></g></svg>
<div style="position:absolute;left:254px;top:327.4px;width:11.8px;height:7.2px;box-sizing:border-box;background:#7d92d2;border:0.8px solid #6a80c4;"></div>
<div class="t" style="left:267.7px;top:326.6px;font-size:9px;line-height:11px;transform:scaleX(0.875);transform-origin:0 0;color:#1a1a24;">F</div>
<div style="position:absolute;left:254px;top:341.2px;width:11.8px;height:7.2px;box-sizing:border-box;background:#e27b6c;border:0.8px solid #d26858;"></div>
<div class="t" style="left:267.7px;top:340.35px;font-size:9px;line-height:11px;transform:scaleX(0.875);transform-origin:0 0;color:#1a1a24;">M</div>
<div style="position:absolute;left:245px;top:352.75px;width:216px;height:12px;background:#efefef;"></div>
<svg style="position:absolute;left:249px;top:354.75px" width="6" height="8" viewBox="0 0 6 8"><path d="M4.5 1 L1.5 4 L4.5 7" fill="none" stroke="#d0d0d0" stroke-width="1"/></svg>
<svg style="position:absolute;left:451px;top:354.75px" width="6" height="8" viewBox="0 0 6 8"><path d="M1.5 1 L4.5 4 L1.5 7" fill="none" stroke="#d0d0d0" stroke-width="1"/></svg>
<div class="t" style="left:472.5px;top:325.4px;font-size:9px;line-height:11px;transform:scaleX(0.916);transform-origin:0 0;color:#1a1a24;">Color Theme</div>
<div style="position:absolute;left:473.5px;top:337px;width:109px;height:14.5px;box-sizing:border-box;border:1px solid #c8c8c8;background:#e8e8e8;"></div>
<div class="t" style="left:478px;top:339px;font-size:9px;line-height:11px;transform:scaleX(0.915);transform-origin:0 0;color:#111;">SAS Light</div>
<svg style="position:absolute;left:573px;top:341.6px" width="7" height="5" viewBox="0 0 7 5"><path d="M1.2 1.2 L3.5 3.4 L5.8 1.2" fill="none" stroke="#4a4a4a" stroke-width="1.25"/></svg>
<svg style="position:absolute;left:585.4px;top:336.5px" width="15" height="15" viewBox="0 0 15 15"><rect x="0.75" y="0.75" width="13.5" height="13.5" rx="1.2" fill="#e3e3e3" stroke="#909090" stroke-width="1.5"/><g><path d="M2.6 2.5 L8.8 2.5 L11 4.7 L11 12.1 L2.6 12.1 Z" fill="#c6d8f2" stroke="#8eaad6" stroke-width="0.6"/><path d="M4.6 3.4 L8.2 3.4 L8.8 6.8 L6.6 8.6 L4.6 8 Z" fill="#ffffff" opacity="0.85"/><path d="M9.4 5.5 L11.5 7.6 L9.4 9.7 L7.3 7.6 Z" fill="#0b3fb0"/><path d="M11.3 8.9 Q13.1 11.6 9.6 13.1" fill="none" stroke="#2d68cc" stroke-width="1.3"/><circle cx="4.9" cy="10.3" r="0.9" fill="#d8b050"/><circle cx="6.9" cy="10.3" r="0.9" fill="#50b050"/></g></svg>
<div class="t" style="left:472.5px;top:353.8px;font-size:9px;line-height:11px;transform:scaleX(0.92);transform-origin:0 0;color:#1a1a24;">Color Overrides ( <b>+</b> ): <b>0</b></div>
<svg style="position:absolute;left:478.0px;top:367px" width="15" height="15" viewBox="0 0 15 15"><rect x="0.75" y="0.75" width="13.5" height="13.5" rx="1.2" fill="#e3e3e3" stroke="#909090" stroke-width="1.5"/><g><rect x="2.7" y="4.8" width="7.6" height="7" fill="#e4eefa" stroke="#5678a8" stroke-width="1"/><path d="M4.5 7.6 L6.6 9.8 L11.3 3.6" fill="none" stroke="#1ea51e" stroke-width="1.6" stroke-linecap="round" stroke-linejoin="round"/></g></svg>
<svg style="position:absolute;left:495.4px;top:367px" width="15" height="15" viewBox="0 0 15 15"><rect x="0.75" y="0.75" width="13.5" height="13.5" rx="1.2" fill="#e3e3e3" stroke="#909090" stroke-width="1.5"/><g><path d="M1.7 7.3 Q2.2 4.6 4.9 2.8 L5.6 5.2 L8.1 7.3 L5.6 9.4 L4.9 11.8 Q2.2 10 1.7 7.3 Z" fill="#6d9fe8" stroke="#4c7fd2" stroke-width="0.5"/><path d="M3.2 7.3 L5.6 6.4 L6 7.6 Z" fill="#e6f0ff"/><path d="M6.9 7.3 L9.6 5.2 L10.3 2.8 Q12.8 4.6 13.3 7.3 Q12.8 10 10.3 11.8 L9.6 9.4 Z" fill="#3fc23f" stroke="#248c24" stroke-width="0.5"/></g></svg>
<svg style="position:absolute;left:512.8px;top:367px" width="15" height="15" viewBox="0 0 15 15"><rect x="0.75" y="0.75" width="13.5" height="13.5" rx="1.2" fill="#e3e3e3" stroke="#909090" stroke-width="1.5"/><g><path d="M3.4 3.6 L11.6 11.6 M11.6 3.6 L3.4 11.6" stroke="#5f8fe0" stroke-width="2.7" stroke-linecap="round"/><path d="M3.9 4.1 L11.1 11.1 M11.1 4.1 L3.9 11.1" stroke="#c6dbf8" stroke-width="1.1" stroke-linecap="round"/></g></svg>
<svg style="position:absolute;left:530.2px;top:367px" width="15" height="15" viewBox="0 0 15 15"><rect x="0.75" y="0.75" width="13.5" height="13.5" rx="1.2" fill="#e3e3e3" stroke="#909090" stroke-width="1.5"/><g><path d="M2.6 2.5 L8.8 2.5 L11 4.7 L11 12.1 L2.6 12.1 Z" fill="#c6d8f2" stroke="#8eaad6" stroke-width="0.6"/><path d="M4.6 3.4 L8.2 3.4 L8.8 6.8 L6.6 8.6 L4.6 8 Z" fill="#ffffff" opacity="0.85"/><path d="M9.4 5.5 L11.5 7.6 L9.4 9.7 L7.3 7.6 Z" fill="#0b3fb0"/><path d="M11.3 8.9 Q13.1 11.6 9.6 13.1" fill="none" stroke="#2d68cc" stroke-width="1.3"/><circle cx="4.9" cy="10.3" r="0.9" fill="#d8b050"/><circle cx="6.9" cy="10.3" r="0.9" fill="#50b050"/></g></svg>
<div style="position:absolute;left:38.5px;top:385px;width:562.5px;height:16px;box-sizing:border-box;border:1px solid #d2d2d2;background:#ececec;"></div>
<svg style="position:absolute;left:31.3px;top:389.4px" width="8" height="8" viewBox="0 0 8 8"><path d="M0.8 6.6 L6.6 1 L6.6 6.6 Z" fill="#d4d4d4" stroke="#7a7a7a" stroke-width="1" stroke-linejoin="round"/></svg>
<div class="t" style="left:40.5px;top:386px;font-weight:bold;font-size:11px;line-height:14px;color:#000;-webkit-text-stroke:0;letter-spacing:-0.2px;">TRT01P (Planned Treatment for Period 01)</div>
<div style="position:absolute;left:38px;top:402px;width:133px;height:34.89999999999999px;box-sizing:border-box;border:1px solid #c6c6c6;background:#fff;"></div>
<div class="t" style="left:41px;top:403.0px;font-size:9px;line-height:10.7px;transform:scaleX(0.875);transform-origin:0 0;color:#1a1a24;">NIC .15</div>
<div class="t" style="left:41px;top:413.7px;font-size:9px;line-height:10.7px;transform:scaleX(0.895);transform-origin:0 0;color:#1a1a24;">Placebo</div>
<div class="t" style="left:41px;top:424.4px;font-size:9px;line-height:10.7px;transform:scaleX(0.895);transform-origin:0 0;color:#1a1a24;">Screen Failure</div>
<svg style="position:absolute;left:172.5px;top:403px" width="15" height="15" viewBox="0 0 15 15"><rect x="0.75" y="0.75" width="13.5" height="13.5" rx="1.2" fill="#e3e3e3" stroke="#909090" stroke-width="1.5"/><g><path d="M7.9 3.2 L11.2 7.6 L9.3 7.6 L9.3 11.4 L6.5 11.4 L6.5 7.6 L4.6 7.6 Z" fill="#86b8e6" stroke="#6a9fd6" stroke-width="0.5"/><path d="M8.4 4 L11.2 7.6 L9.3 7.6 L9.3 11.4 L8.4 11.4 Z" fill="#4d89c9"/></g></svg>
<svg style="position:absolute;left:190px;top:403px" width="15" height="15" viewBox="0 0 15 15"><rect x="0.75" y="0.75" width="13.5" height="13.5" rx="1.2" fill="#e3e3e3" stroke="#909090" stroke-width="1.5"/><g><path d="M7.4 2.3 L1.8 10.6 L10.4 12.6 Z" fill="#fff0f0" stroke="#e23c3c" stroke-width="1.05" stroke-linejoin="round"/><path d="M7.3 3.6 L5.9 10.9 L8.9 11.6 Z" fill="#ff6a6a"/><path d="M10.9 2.8 L13.2 5.8 L11.7 5.8 L11.7 11.6 L10.1 11.6 L10.1 5.8 L8.6 5.8 Z" fill="#2563c9" stroke="#1b4fae" stroke-width="0.4"/></g></svg>
<svg style="position:absolute;left:207.3px;top:403px" width="15" height="15" viewBox="0 0 15 15"><rect x="0.75" y="0.75" width="13.5" height="13.5" rx="1.2" fill="#e3e3e3" stroke="#909090" stroke-width="1.5"/><g><path d="M1.6 7.9 L5.3 2.9 L7.6 6 Z" fill="#ffd0d0" stroke="#e04848" stroke-width="0.9" stroke-linejoin="round"/><circle cx="6.3" cy="9.1" r="3.3" fill="#3f86e6" stroke="#2a63c0" stroke-width="0.5"/><circle cx="5.4" cy="8.1" r="1.2" fill="#9cc8ff"/><path d="M10.8 2.2 L12.9 5.2 L11.6 5.2 L11.6 11 L10 11 L10 5.2 L8.7 5.2 Z" fill="#2563c9" stroke="#1b4fae" stroke-width="0.4"/></g></svg>
<svg style="position:absolute;left:172.5px;top:420.5px" width="15" height="15" viewBox="0 0 15 15"><rect x="0.75" y="0.75" width="13.5" height="13.5" rx="1.2" fill="#e3e3e3" stroke="#909090" stroke-width="1.5"/><g><path d="M7.9 11.6 L11.2 7.2 L9.3 7.2 L9.3 3.4 L6.5 3.4 L6.5 7.2 L4.6 7.2 Z" fill="#86b8e6" stroke="#6a9fd6" stroke-width="0.5"/><path d="M8.4 10.8 L11.2 7.2 L9.3 7.2 L9.3 3.4 L8.4 3.4 Z" fill="#4d89c9"/></g></svg>
<svg style="position:absolute;left:190px;top:420.5px" width="15" height="15" viewBox="0 0 15 15"><rect x="0.75" y="0.75" width="13.5" height="13.5" rx="1.2" fill="#e3e3e3" stroke="#909090" stroke-width="1.5"/><g><path d="M7.4 2.3 L1.8 10.6 L10.4 12.6 Z" fill="#fff0f0" stroke="#e23c3c" stroke-width="1.05" stroke-linejoin="round"/><path d="M7.3 3.6 L5.9 10.9 L8.9 11.6 Z" fill="#ff6a6a"/><path d="M10.9 12.2 L13.2 9.2 L11.7 9.2 L11.7 3.4 L10.1 3.4 L10.1 9.2 L8.6 9.2 Z" fill="#2563c9" stroke="#1b4fae" stroke-width="0.4"/></g></svg>
<svg style="position:absolute;left:207.3px;top:420.5px" width="15" height="15" viewBox="0 0 15 15"><rect x="0.5" y="0.5" width="14" height="14" rx="1" fill="#3a8bd8" stroke="#2d74bf" stroke-width="1"/><g><path d="M1.6 7.9 L5.3 2.9 L7.6 6 Z" fill="#ffd0d0" stroke="#e04848" stroke-width="0.9" stroke-linejoin="round"/><circle cx="6.3" cy="9.1" r="3.3" fill="#3f86e6" stroke="#2a63c0" stroke-width="0.5"/><circle cx="5.4" cy="8.1" r="1.2" fill="#9cc8ff"/><path d="M10.8 12.4 L12.9 9.4 L11.6 9.4 L11.6 3.6 L10 3.6 L10 9.4 L8.7 9.4 Z" fill="#2563c9" stroke="#1b4fae" stroke-width="0.4"/></g></svg>
<div style="position:absolute;left:254px;top:405.4px;width:11.8px;height:7.2px;box-sizing:border-box;background:#7d92d2;border:0.8px solid #6a80c4;"></div>
<div class="t" style="left:267.7px;top:404.6px;font-size:9px;line-height:11px;transform:scaleX(0.875);transform-origin:0 0;color:#1a1a24;">NIC .15</div>
<div style="position:absolute;left:254px;top:419.2px;width:11.8px;height:7.2px;box-sizing:border-box;background:#c8c8c8;border:0.8px solid #bcbcbc;"></div>
<div class="t" style="left:267.7px;top:418.35px;font-size:9px;line-height:11px;transform:scaleX(0.895);transform-origin:0 0;color:#1a1a24;">Placebo</div>
<svg style="position:absolute;left:245px;top:418.7px" width="8" height="8" viewBox="0 0 8 8"><path d="M3.6 1 L3.6 6.6 M1 3.8 L6.2 3.8" stroke="#1a1a1a" stroke-width="1.3"/></svg>
<div style="position:absolute;left:254px;top:433.0px;width:11.8px;height:7.2px;box-sizing:border-box;background:#5da398;border:0.8px solid #4a9084;"></div>
<div class="t" style="left:267.7px;top:432.1px;font-size:9px;line-height:11px;transform:scaleX(0.895);transform-origin:0 0;color:#1a1a24;">Screen Failure</div>
<div style="position:absolute;left:245px;top:444.5px;width:216px;height:12px;background:#efefef;"></div>
<svg style="position:absolute;left:249px;top:446.5px" width="6" height="8" viewBox="0 0 6 8"><path d="M4.5 1 L1.5 4 L4.5 7" fill="none" stroke="#d0d0d0" stroke-width="1"/></svg>
<svg style="position:absolute;left:451px;top:446.5px" width="6" height="8" viewBox="0 0 6 8"><path d="M1.5 1 L4.5 4 L1.5 7" fill="none" stroke="#d0d0d0" stroke-width="1"/></svg>
<div class="t" style="left:472.5px;top:403.4px;font-size:9px;line-height:11px;transform:scaleX(0.916);transform-origin:0 0;color:#1a1a24;">Color Theme</div>
<div style="position:absolute;left:473.5px;top:415px;width:109px;height:14.5px;box-sizing:border-box;border:1px solid #c8c8c8;background:#e8e8e8;"></div>
<div class="t" style="left:478px;top:417px;font-size:9px;line-height:11px;transform:scaleX(0.915);transform-origin:0 0;color:#111;">JMPC Treatment</div>
<svg style="position:absolute;left:573px;top:419.6px" width="7" height="5" viewBox="0 0 7 5"><path d="M1.2 1.2 L3.5 3.4 L5.8 1.2" fill="none" stroke="#4a4a4a" stroke-width="1.25"/></svg>
<svg style="position:absolute;left:585.4px;top:414.5px" width="15" height="15" viewBox="0 0 15 15"><rect x="0.75" y="0.75" width="13.5" height="13.5" rx="1.2" fill="#e3e3e3" stroke="#909090" stroke-width="1.5"/><g><path d="M2.6 2.5 L8.8 2.5 L11 4.7 L11 12.1 L2.6 12.1 Z" fill="#c6d8f2" stroke="#8eaad6" stroke-width="0.6"/><path d="M4.6 3.4 L8.2 3.4 L8.8 6.8 L6.6 8.6 L4.6 8 Z" fill="#ffffff" opacity="0.85"/><path d="M9.4 5.5 L11.5 7.6 L9.4 9.7 L7.3 7.6 Z" fill="#0b3fb0"/><path d="M11.3 8.9 Q13.1 11.6 9.6 13.1" fill="none" stroke="#2d68cc" stroke-width="1.3"/><circle cx="4.9" cy="10.3" r="0.9" fill="#d8b050"/><circle cx="6.9" cy="10.3" r="0.9" fill="#50b050"/></g></svg>
<div class="t" style="left:472.5px;top:431.8px;font-size:9px;line-height:11px;transform:scaleX(0.92);transform-origin:0 0;color:#1a1a24;">Color Overrides ( <b>+</b> ): <b>1</b></div>
<svg style="position:absolute;left:478.0px;top:445px" width="15" height="15" viewBox="0 0 15 15"><rect x="0.75" y="0.75" width="13.5" height="13.5" rx="1.2" fill="#e3e3e3" stroke="#909090" stroke-width="1.5"/><g><rect x="2.7" y="4.8" width="7.6" height="7" fill="#e4eefa" stroke="#5678a8" stroke-width="1"/><path d="M4.5 7.6 L6.6 9.8 L11.3 3.6" fill="none" stroke="#1ea51e" stroke-width="1.6" stroke-linecap="round" stroke-linejoin="round"/></g></svg>
<svg style="position:absolute;left:495.4px;top:445px" width="15" height="15" viewBox="0 0 15 15"><rect x="0.75" y="0.75" width="13.5" height="13.5" rx="1.2" fill="#e3e3e3" stroke="#909090" stroke-width="1.5"/><g><path d="M1.7 7.3 Q2.2 4.6 4.9 2.8 L5.6 5.2 L8.1 7.3 L5.6 9.4 L4.9 11.8 Q2.2 10 1.7 7.3 Z" fill="#6d9fe8" stroke="#4c7fd2" stroke-width="0.5"/><path d="M3.2 7.3 L5.6 6.4 L6 7.6 Z" fill="#e6f0ff"/><path d="M6.9 7.3 L9.6 5.2 L10.3 2.8 Q12.8 4.6 13.3 7.3 Q12.8 10 10.3 11.8 L9.6 9.4 Z" fill="#3fc23f" stroke="#248c24" stroke-width="0.5"/></g></svg>
<svg style="position:absolute;left:512.8px;top:445px" width="15" height="15" viewBox="0 0 15 15"><rect x="0.75" y="0.75" width="13.5" height="13.5" rx="1.2" fill="#e3e3e3" stroke="#909090" stroke-width="1.5"/><g><path d="M6.2 2.4 L8.8 2.4 L8.8 6 L12 10.6 Q12.6 12.6 10.6 12.6 L4.4 12.6 Q2.4 12.6 3 10.6 L6.2 6 Z" fill="#3fbf3f" stroke="#3f70b8" stroke-width="0.8"/><path d="M6.6 2.8 L8.4 2.8 L8.4 6.4 L6.6 6.4 Z" fill="#dfeaf8"/><path d="M4.6 10 Q6 8.6 7.2 9.4" fill="none" stroke="#a8f0a8" stroke-width="0.8"/></g></svg>
<svg style="position:absolute;left:530.2px;top:445px" width="15" height="15" viewBox="0 0 15 15"><rect x="0.75" y="0.75" width="13.5" height="13.5" rx="1.2" fill="#e3e3e3" stroke="#909090" stroke-width="1.5"/><g><path d="M3.4 3.6 L11.6 11.6 M11.6 3.6 L3.4 11.6" stroke="#5f8fe0" stroke-width="2.7" stroke-linecap="round"/><path d="M3.9 4.1 L11.1 11.1 M11.1 4.1 L3.9 11.1" stroke="#c6dbf8" stroke-width="1.1" stroke-linecap="round"/></g></svg>
<svg style="position:absolute;left:547.6px;top:445px" width="15" height="15" viewBox="0 0 15 15"><rect x="0.75" y="0.75" width="13.5" height="13.5" rx="1.2" fill="#e3e3e3" stroke="#909090" stroke-width="1.5"/><g><path d="M2.6 2.5 L8.8 2.5 L11 4.7 L11 12.1 L2.6 12.1 Z" fill="#c6d8f2" stroke="#8eaad6" stroke-width="0.6"/><path d="M4.6 3.4 L8.2 3.4 L8.8 6.8 L6.6 8.6 L4.6 8 Z" fill="#ffffff" opacity="0.85"/><path d="M9.4 5.5 L11.5 7.6 L9.4 9.7 L7.3 7.6 Z" fill="#0b3fb0"/><path d="M11.3 8.9 Q13.1 11.6 9.6 13.1" fill="none" stroke="#2d68cc" stroke-width="1.3"/><circle cx="4.9" cy="10.3" r="0.9" fill="#d8b050"/><circle cx="6.9" cy="10.3" r="0.9" fill="#50b050"/></g></svg>
<div style="position:absolute;left:30px;top:463px;width:572px;height:16px;box-sizing:border-box;border:1px solid #d2d2d2;background:#ececec;"></div>
<svg style="position:absolute;left:22.8px;top:467.4px" width="8" height="8" viewBox="0 0 8 8"><path d="M0.8 6.6 L6.6 1 L6.6 6.6 Z" fill="#d4d4d4" stroke="#7a7a7a" stroke-width="1" stroke-linejoin="round"/></svg>
<div class="t" style="left:32px;top:464px;font-weight:bold;font-size:11px;line-height:14px;color:#000;-webkit-text-stroke:0;letter-spacing:-0.78px;">AE</div>
<div style="position:absolute;left:38.5px;top:481px;width:562.5px;height:16px;box-sizing:border-box;border:1px solid #d2d2d2;background:#ececec;"></div>
<svg style="position:absolute;left:31.3px;top:485.4px" width="8" height="8" viewBox="0 0 8 8"><path d="M0.8 6.6 L6.6 1 L6.6 6.6 Z" fill="#d4d4d4" stroke="#7a7a7a" stroke-width="1" stroke-linejoin="round"/></svg>
<div class="t" style="left:40.5px;top:482px;font-weight:bold;font-size:11px;line-height:14px;color:#000;-webkit-text-stroke:0;letter-spacing:-0.2px;">AEACN (Action Taken with Study Treatment)</div>
<div style="position:absolute;left:38px;top:498px;width:133px;height:56.3px;box-sizing:border-box;border:1px solid #c6c6c6;background:#fff;"></div>
<div class="t" style="left:41px;top:499.0px;font-size:9px;line-height:10.7px;transform:scaleX(0.875);transform-origin:0 0;color:#1a1a24;">DOSE NOT CHANGED</div>
<div class="t" style="left:41px;top:509.7px;font-size:9px;line-height:10.7px;transform:scaleX(0.875);transform-origin:0 0;color:#1a1a24;">NOT APPLICABLE</div>
<div class="t" style="left:41px;top:520.4px;font-size:9px;line-height:10.7px;transform:scaleX(0.875);transform-origin:0 0;color:#1a1a24;">UNKNOWN</div>
<div class="t" style="left:41px;top:531.1px;font-size:9px;line-height:10.7px;transform:scaleX(0.875);transform-origin:0 0;color:#1a1a24;">DOSE MODIFIED</div>
<div class="t" style="left:41px;top:541.8px;font-size:9px;line-height:10.7px;transform:scaleX(0.875);transform-origin:0 0;color:#1a1a24;">DRUG WITHDRAWN</div>
<svg style="position:absolute;left:172.5px;top:499px" width="15" height="15" viewBox="0 0 15 15"><rect x="0.75" y="0.75" width="13.5" height="13.5" rx="1.2" fill="#e3e3e3" stroke="#909090" stroke-width="1.5"/><g><path d="M7.9 3.2 L11.2 7.6 L9.3 7.6 L9.3 11.4 L6.5 11.4 L6.5 7.6 L4.6 7.6 Z" fill="#86b8e6" stroke="#6a9fd6" stroke-width="0.5"/><path d="M8.4 4 L11.2 7.6 L9.3 7.6 L9.3 11.4 L8.4 11.4 Z" fill="#4d89c9"/></g></svg>
<svg style="position:absolute;left:190px;top:499px" width="15" height="15" viewBox="0 0 15 15"><rect x="0.75" y="0.75" width="13.5" height="13.5" rx="1.2" fill="#e3e3e3" stroke="#909090" stroke-width="1.5"/><g><path d="M7.4 2.3 L1.8 10.6 L10.4 12.6 Z" fill="#fff0f0" stroke="#e23c3c" stroke-width="1.05" stroke-linejoin="round"/><path d="M7.3 3.6 L5.9 10.9 L8.9 11.6 Z" fill="#ff6a6a"/><path d="M10.9 2.8 L13.2 5.8 L11.7 5.8 L11.7 11.6 L10.1 11.6 L10.1 5.8 L8.6 5.8 Z" fill="#2563c9" stroke="#1b4fae" stroke-width="0.4"/></g></svg>
<svg style="position:absolute;left:207.3px;top:499px" width="15" height="15" viewBox="0 0 15 15"><rect x="0.5" y="0.5" width="14" height="14" rx="1" fill="#3a8bd8" stroke="#2d74bf" stroke-width="1"/><g><path d="M1.6 7.9 L5.3 2.9 L7.6 6 Z" fill="#ffd0d0" stroke="#e04848" stroke-width="0.9" stroke-linejoin="round"/><circle cx="6.3" cy="9.1" r="3.3" fill="#3f86e6" stroke="#2a63c0" stroke-width="0.5"/><circle cx="5.4" cy="8.1" r="1.2" fill="#9cc8ff"/><path d="M10.8 2.2 L12.9 5.2 L11.6 5.2 L11.6 11 L10 11 L10 5.2 L8.7 5.2 Z" fill="#2563c9" stroke="#1b4fae" stroke-width="0.4"/></g></svg>
<svg style="position:absolute;left:172.5px;top:516.5px" width="15" height="15" viewBox="0 0 15 15"><rect x="0.75" y="0.75" width="13.5" height="13.5" rx="1.2" fill="#e3e3e3" stroke="#909090" stroke-width="1.5"/><g><path d="M7.9 11.6 L11.2 7.2 L9.3 7.2 L9.3 3.4 L6.5 3.4 L6.5 7.2 L4.6 7.2 Z" fill="#86b8e6" stroke="#6a9fd6" stroke-width="0.5"/><path d="M8.4 10.8 L11.2 7.2 L9.3 7.2 L9.3 3.4 L8.4 3.4 Z" fill="#4d89c9"/></g></svg>
<svg style="position:absolute;left:190px;top:516.5px" width="15" height="15" viewBox="0 0 15 15"><rect x="0.75" y="0.75" width="13.5" height="13.5" rx="1.2" fill="#e3e3e3" stroke="#909090" stroke-width="1.5"/><g><path d="M7.4 2.3 L1.8 10.6 L10.4 12.6 Z" fill="#fff0f0" stroke="#e23c3c" stroke-width="1.05" stroke-linejoin="round"/><path d="M7.3 3.6 L5.9 10.9 L8.9 11.6 Z" fill="#ff6a6a"/><path d="M10.9 12.2 L13.2 9.2 L11.7 9.2 L11.7 3.4 L10.1 3.4 L10.1 9.2 L8.6 9.2 Z" fill="#2563c9" stroke="#1b4fae" stroke-width="0.4"/></g></svg>
<svg style="position:absolute;left:207.3px;top:516.5px" width="15" height="15" viewBox="0 0 15 15"><rect x="0.75" y="0.75" width="13.5" height="13.5" rx="1.2" fill="#e3e3e3" stroke="#909090" stroke-width="1.5"/><g><path d="M1.6 7.9 L5.3 2.9 L7.6 6 Z" fill="#ffd0d0" stroke="#e04848" stroke-width="0.9" stroke-linejoin="round"/><circle cx="6.3" cy="9.1" r="3.3" fill="#3f86e6" stroke="#2a63c0" stroke-width="0.5"/><circle cx="5.4" cy="8.1" r="1.2" fill="#9cc8ff"/><path d="M10.8 12.4 L12.9 9.4 L11.6 9.4 L11.6 3.6 L10 3.6 L10 9.4 L8.7 9.4 Z" fill="#2563c9" stroke="#1b4fae" stroke-width="0.4"/></g></svg>
<div style="position:absolute;left:254px;top:501.4px;width:11.8px;height:7.2px;box-sizing:border-box;background:#7d92d2;border:0.8px solid #6a80c4;"></div>
<div class="t" style="left:267.7px;top:500.6px;font-size:9px;line-height:11px;transform:scaleX(0.875);transform-origin:0 0;color:#1a1a24;">DOSE NOT CHANGED</div>
<div style="position:absolute;left:254px;top:515.1999999999999px;width:11.8px;height:7.2px;box-sizing:border-box;background:#e27b6c;border:0.8px solid #d26858;"></div>
<div class="t" style="left:267.7px;top:514.35px;font-size:9px;line-height:11px;transform:scaleX(0.875);transform-origin:0 0;color:#1a1a24;">NOT APPLICABLE</div>
<div style="position:absolute;left:254px;top:529.0px;width:11.8px;height:7.2px;box-sizing:border-box;background:#5da398;border:0.8px solid #4a9084;"></div>
<div class="t" style="left:267.7px;top:528.1px;font-size:9px;line-height:11px;transform:scaleX(0.875);transform-origin:0 0;color:#1a1a24;">UNKNOWN</div>
<div style="position:absolute;left:254px;top:542.8px;width:11.8px;height:7.2px;box-sizing:border-box;background:#a27e54;border:0.8px solid #8c6a42;"></div>
<div class="t" style="left:267.7px;top:541.85px;font-size:9px;line-height:11px;transform:scaleX(0.875);transform-origin:0 0;color:#1a1a24;">DOSE MODIFIED</div>
<div style="position:absolute;left:254px;top:556.6px;width:11.8px;height:7.2px;box-sizing:border-box;background:#b8bb55;border:0.8px solid #a3a641;"></div>
<div class="t" style="left:267.7px;top:555.6px;font-size:9px;line-height:11px;transform:scaleX(0.875);transform-origin:0 0;color:#1a1a24;">DRUG WITHDRAWN</div>
<div style="position:absolute;left:245px;top:568.0px;width:216px;height:12px;background:#efefef;"></div>
<svg style="position:absolute;left:249px;top:570.0px" width="6" height="8" viewBox="0 0 6 8"><path d="M4.5 1 L1.5 4 L4.5 7" fill="none" stroke="#d0d0d0" stroke-width="1"/></svg>
<svg style="position:absolute;left:451px;top:570.0px" width="6" height="8" viewBox="0 0 6 8"><path d="M1.5 1 L4.5 4 L1.5 7" fill="none" stroke="#d0d0d0" stroke-width="1"/></svg>
<div class="t" style="left:472.5px;top:499.4px;font-size:9px;line-height:11px;transform:scaleX(0.916);transform-origin:0 0;color:#1a1a24;">Color Theme</div>
<div style="position:absolute;left:473.5px;top:511px;width:109px;height:14.5px;box-sizing:border-box;border:1px solid #c8c8c8;background:#e8e8e8;"></div>
<div class="t" style="left:478px;top:513px;font-size:9px;line-height:11px;transform:scaleX(0.915);transform-origin:0 0;color:#111;">SAS Light</div>
<svg style="position:absolute;left:573px;top:515.6px" width="7" height="5" viewBox="0 0 7 5"><path d="M1.2 1.2 L3.5 3.4 L5.8 1.2" fill="none" stroke="#4a4a4a" stroke-width="1.25"/></svg>
<svg style="position:absolute;left:585.4px;top:510.5px" width="15" height="15" viewBox="0 0 15 15"><rect x="0.75" y="0.75" width="13.5" height="13.5" rx="1.2" fill="#e3e3e3" stroke="#909090" stroke-width="1.5"/><g><path d="M2.6 2.5 L8.8 2.5 L11 4.7 L11 12.1 L2.6 12.1 Z" fill="#c6d8f2" stroke="#8eaad6" stroke-width="0.6"/><path d="M4.6 3.4 L8.2 3.4 L8.8 6.8 L6.6 8.6 L4.6 8 Z" fill="#ffffff" opacity="0.85"/><path d="M9.4 5.5 L11.5 7.6 L9.4 9.7 L7.3 7.6 Z" fill="#0b3fb0"/><path d="M11.3 8.9 Q13.1 11.6 9.6 13.1" fill="none" stroke="#2d68cc" stroke-width="1.3"/><circle cx="4.9" cy="10.3" r="0.9" fill="#d8b050"/><circle cx="6.9" cy="10.3" r="0.9" fill="#50b050"/></g></svg>
<div class="t" style="left:472.5px;top:527.8px;font-size:9px;line-height:11px;transform:scaleX(0.92);transform-origin:0 0;color:#1a1a24;">Color Overrides ( <b>+</b> ): <b>0</b></div>
<svg style="position:absolute;left:478.0px;top:541px" width="15" height="15" viewBox="0 0 15 15"><rect x="0.75" y="0.75" width="13.5" height="13.5" rx="1.2" fill="#e3e3e3" stroke="#909090" stroke-width="1.5"/><g><rect x="2.7" y="4.8" width="7.6" height="7" fill="#e4eefa" stroke="#5678a8" stroke-width="1"/><path d="M4.5 7.6 L6.6 9.8 L11.3 3.6" fill="none" stroke="#1ea51e" stroke-width="1.6" stroke-linecap="round" stroke-linejoin="round"/></g></svg>
<svg style="position:absolute;left:495.4px;top:541px" width="15" height="15" viewBox="0 0 15 15"><rect x="0.75" y="0.75" width="13.5" height="13.5" rx="1.2" fill="#e3e3e3" stroke="#909090" stroke-width="1.5"/><g><path d="M1.7 7.3 Q2.2 4.6 4.9 2.8 L5.6 5.2 L8.1 7.3 L5.6 9.4 L4.9 11.8 Q2.2 10 1.7 7.3 Z" fill="#6d9fe8" stroke="#4c7fd2" stroke-width="0.5"/><path d="M3.2 7.3 L5.6 6.4 L6 7.6 Z" fill="#e6f0ff"/><path d="M6.9 7.3 L9.6 5.2 L10.3 2.8 Q12.8 4.6 13.3 7.3 Q12.8 10 10.3 11.8 L9.6 9.4 Z" fill="#3fc23f" stroke="#248c24" stroke-width="0.5"/></g></svg>
<svg style="position:absolute;left:512.8px;top:541px" width="15" height="15" viewBox="0 0 15 15"><rect x="0.75" y="0.75" width="13.5" height="13.5" rx="1.2" fill="#e3e3e3" stroke="#909090" stroke-width="1.5"/><g><path d="M3.4 3.6 L11.6 11.6 M11.6 3.6 L3.4 11.6" stroke="#5f8fe0" stroke-width="2.7" stroke-linecap="round"/><path d="M3.9 4.1 L11.1 11.1 M11.1 4.1 L3.9 11.1" stroke="#c6dbf8" stroke-width="1.1" stroke-linecap="round"/></g></svg>
<svg style="position:absolute;left:530.2px;top:541px" width="15" height="15" viewBox="0 0 15 15"><rect x="0.75" y="0.75" width="13.5" height="13.5" rx="1.2" fill="#e3e3e3" stroke="#909090" stroke-width="1.5"/><g><path d="M2.6 2.5 L8.8 2.5 L11 4.7 L11 12.1 L2.6 12.1 Z" fill="#c6d8f2" stroke="#8eaad6" stroke-width="0.6"/><path d="M4.6 3.4 L8.2 3.4 L8.8 6.8 L6.6 8.6 L4.6 8 Z" fill="#ffffff" opacity="0.85"/><path d="M9.4 5.5 L11.5 7.6 L9.4 9.7 L7.3 7.6 Z" fill="#0b3fb0"/><path d="M11.3 8.9 Q13.1 11.6 9.6 13.1" fill="none" stroke="#2d68cc" stroke-width="1.3"/><circle cx="4.9" cy="10.3" r="0.9" fill="#d8b050"/><circle cx="6.9" cy="10.3" r="0.9" fill="#50b050"/></g></svg>
</body></html>
